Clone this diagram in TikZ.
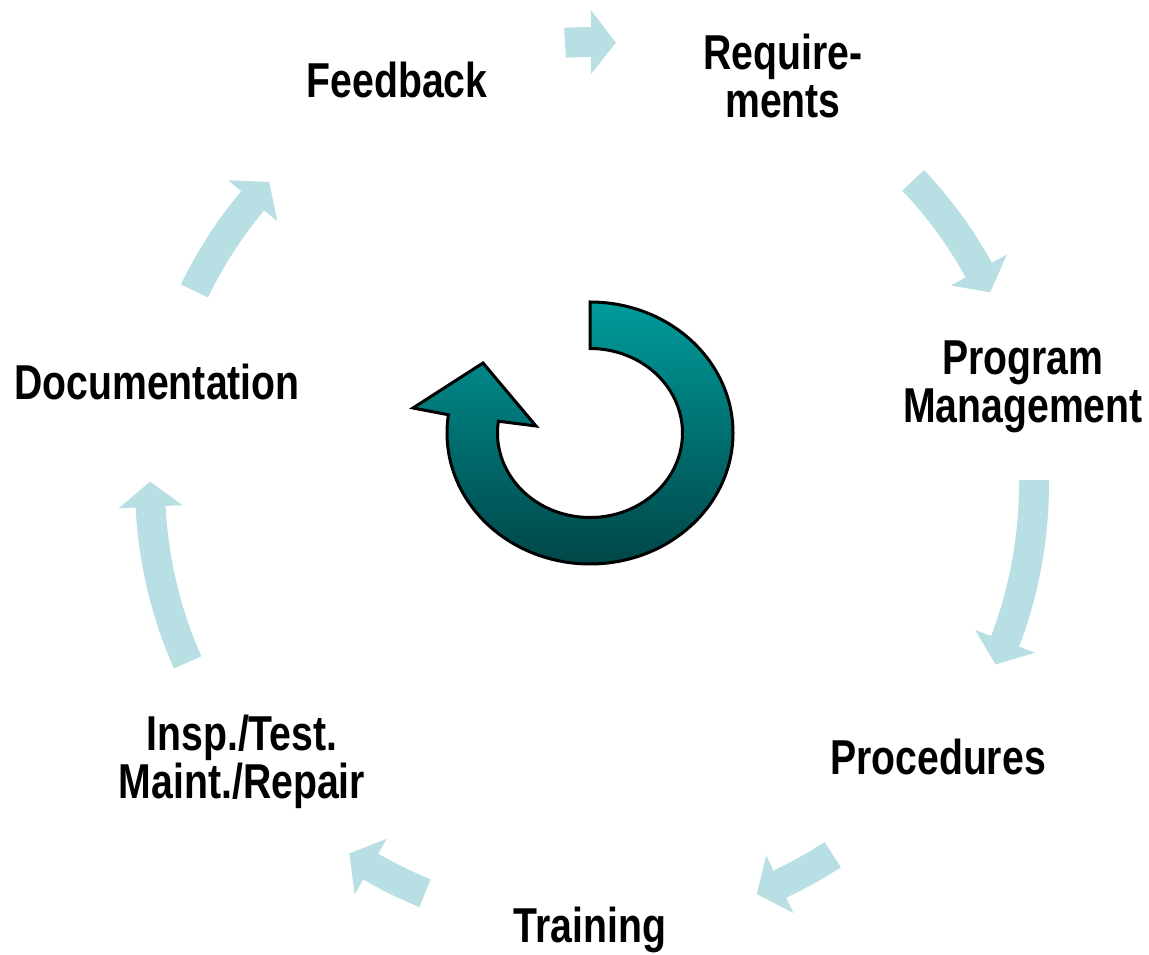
\documentclass[tikz,border=0pt]{standalone}
\usepackage{fontspec}
\newfontfamily\labelfont{Liberation Sans}[FakeStretch=0.8]
\definecolor{cyclelight}{RGB}{184,223,227}
\definecolor{spintop}{RGB}{0,155,155}
\definecolor{spinbot}{RGB}{0,70,72}

\begin{document}
\begin{tikzpicture}[x=1pt, y=1pt,
    lbl/.style={font=\labelfont\bfseries\fontsize{49}{48}\selectfont,
                align=center, anchor=base, inner sep=0pt}]
    \useasboundingbox (0,0) rectangle (1149,954);

    % Этапы цикла (у двухстрочных подписей base -- по нижней строке)
    \node[lbl] (req)   at (783,836)  {Require-\\ments};
    \node[lbl] (pm)    at (1023,531) {Program\\Management};
    \node[lbl] (proc)  at (938,179)  {Procedures};
    \node[lbl] (train) at (590,12)   {Training};
    \node[lbl] (insp)  at (242,156)  {Insp./Test.\\Maint./Repair};
    \node[lbl] (doc)   at (157,554)  {Documentation};
    \node[lbl] (fb)    at (397,856)  {Feedback};

    % Стрелки по внешнему кругу (по часовой стрелке): от угла \a до острия \b
    \begin{scope}[shift={(592,470)}]
        \foreach \a/\b in {93.5/86.9, 43.4/25.7, 0.5/-24.1, -57/-68.1,
                           -112.2/-123.3, 203.8/179.7, 154.1/136.9} {
            \pgfmathsetmacro{\c}{\b+3.25}
            \fill[cyclelight] (\a:457pt) arc[start angle=\a, end angle=\c, radius=457pt]
                -- (\c:474pt) -- (\b:442pt) -- (\c:410pt) -- (\c:427pt)
                arc[start angle=\c, end angle=\a, radius=427pt] -- cycle;
        }
    \end{scope}

    % Центральная круговая стрелка
    \begin{scope}[shift={(590,521)}]
        \shadedraw[top color=spintop, bottom color=spinbot, draw=black,
                   line width=3pt, line join=miter]
            (0,131) arc[start angle=90, end angle=-188, x radius=143pt, y radius=131pt]
            -- (-177,25) -- (-107,70) -- (-54,7)
            -- (-188:92.5pt and 84.5pt)
            arc[start angle=-188, end angle=90, x radius=92.5pt, y radius=84.5pt]
            -- cycle;
    \end{scope}
\end{tikzpicture}
\end{document}
